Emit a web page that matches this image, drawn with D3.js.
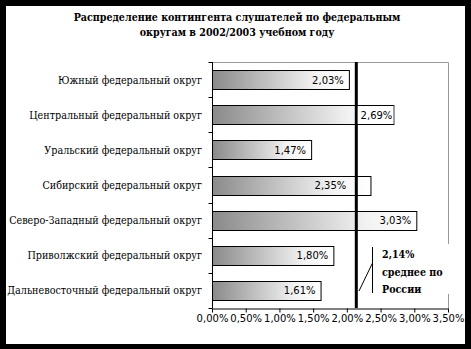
<!DOCTYPE html>
<html lang="ru">
<head>
<meta charset="utf-8">
<title>Распределение контингента слушателей</title>
<script src="https://d3js.org/d3.v7.min.js"></script>
<style>
  body { margin: 0; background: #000; }
  .cat { font-family: "DejaVu Serif Condensed", "DejaVu Serif", serif; font-stretch: condensed; font-size: 10.7px; }
  .val { font-family: "DejaVu Sans", Verdana, sans-serif; font-size: 10px; }
  .ttl, .note { font-family: "DejaVu Serif Condensed", "DejaVu Serif", serif; font-stretch: condensed; font-size: 10.6px; font-weight: bold; }
</style>
</head>
<body>
<div id="chart"></div>
<script>
// data
var districts = ["Южный федеральный округ", "Центральный федеральный округ", "Уральский федеральный округ",
  "Сибирский федеральный округ", "Северо-Западный федеральный округ", "Приволжский федеральный округ",
  "Дальневосточный федеральный округ"];
var shares = [2.03, 2.69, 1.47, 2.35, 3.03, 1.80, 1.61];
var average = 2.14;
var xTicks = [0, 0.5, 1, 1.5, 2, 2.5, 3, 3.5];
var titleLines = ["Распределение контингента слушателей по федеральным", "округам в 2002/2003 учебном году"];
var noteLines = ["2,14%", "среднее по", "России"];

var w = 471, h = 349;
var fmt = function(v) { return v.toFixed(2).replace(".", ",") + "%"; };

var svg = d3.select("#chart").append("svg").attr("width", w).attr("height", h);

// frame
svg.append("rect").attr("width", w).attr("height", h).attr("fill", "#000");
svg.append("rect").attr("x", 6).attr("y", 6).attr("width", 459).attr("height", 338).attr("fill", "#fff");

var grad = svg.append("defs").append("linearGradient").attr("id", "barfill");
grad.append("stop").attr("offset", "0%").attr("stop-color", "#8a8a8a");
grad.append("stop").attr("offset", "75%").attr("stop-color", "#f2f2f2");
grad.append("stop").attr("offset", "100%").attr("stop-color", "#ffffff");

// title
svg.selectAll(".ttl").data(titleLines).enter().append("text")
  .attr("class", "ttl").attr("x", 237).attr("y", function(d, i) { return 21 + i * 14.5; })
  .attr("text-anchor", "middle").text(function(d) { return d; });

var pLeft = 212, pRight = 448, pTop = 62, pBottom = 308;
var x = d3.scaleLinear().domain([0, 3.5]).range([pLeft, pRight]);
var y = d3.scaleBand().domain(districts).range([pTop, pBottom]).paddingInner(0.46).paddingOuter(0.23);

// plot border (top, right)
svg.append("path").attr("d", "M" + pLeft + "," + (pTop + 0.5) + "H" + (pRight + 0.5) + "V" + pBottom)
  .attr("fill", "none").attr("stroke", "#999");

// bars
svg.selectAll(".bar").data(shares).enter().append("rect")
  .attr("class", "bar")
  .attr("x", pLeft + 0.5).attr("y", function(d, i) { return Math.round(y(districts[i])) + 0.5; })
  .attr("width", function(d) { return x(d) - pLeft; })
  .attr("height", Math.round(y.bandwidth()))
  .attr("fill", "url(#barfill)").attr("stroke", "#000");

// average line
var xa = x(average);
svg.append("line").attr("x1", xa).attr("x2", xa).attr("y1", pTop).attr("y2", pBottom)
  .attr("stroke", "#000").attr("stroke-width", 3);

// value labels (moved off the average line like in the original)
svg.selectAll(".vlab").data(shares).enter().append("g").attr("class", "vlab")
  .each(function(d, i) {
    var g = d3.select(this);
    var t = g.append("text").attr("class", "val")
      .attr("x", x(d) - 5).attr("y", y(districts[i]) + y.bandwidth() / 2 + 4)
      .attr("text-anchor", "end").text(fmt(d));
    var bb = t.node().getBBox();
    if (bb.x < xa + 2 && bb.x + bb.width > xa - 2) {
      if (x(d) - xa > bb.width + 1) {
        g.insert("rect", "text").attr("x", xa + 1.5).attr("y", Math.round(y(districts[i])) + 1)
          .attr("width", x(d) - xa - 1.5).attr("height", Math.round(y.bandwidth()) - 1).attr("fill", "#fff");
        t.attr("x", x(d) - 1);
      } else {
        t.attr("x", xa - 10);
      }
    }
  });

// axes
var yAxis = svg.append("g").attr("transform", "translate(" + (pLeft + 0.5) + ",0)");
yAxis.append("line").attr("y1", pTop).attr("y2", pBottom).attr("stroke", "#000");
yAxis.selectAll(".yt").data(d3.range(districts.length + 1)).enter().append("line")
  .attr("class", "yt")
  .attr("x1", -4).attr("x2", 0)
  .attr("y1", function(i) { return Math.round(pTop + i * y.step()) + 0.5; })
  .attr("y2", function(i) { return Math.round(pTop + i * y.step()) + 0.5; })
  .attr("stroke", "#000");

svg.selectAll(".cat").data(districts).enter().append("text")
  .attr("class", "cat").attr("x", 202).attr("y", function(d) { return y(d) + y.bandwidth() / 2 + 4; })
  .attr("text-anchor", "end").text(function(d) { return d; });

var xAxis = svg.append("g").attr("transform", "translate(0," + (pBottom + 0.5) + ")")
  .call(d3.axisBottom(x).tickValues(xTicks).tickFormat(fmt).tickSize(4).tickSizeOuter(0));
xAxis.select(".domain").attr("stroke", "#000");
xAxis.selectAll(".tick text").attr("y", 6).attr("fill", "#000")
  .style("font-family", "'DejaVu Sans', Verdana, sans-serif").style("font-size", "10px");

// annotation box
var note = svg.append("g");
note.append("rect").attr("x", 368).attr("y", 244).attr("width", 92).attr("height", 50).attr("fill", "#fff");
note.append("line").attr("x1", 372.5).attr("x2", 372.5).attr("y1", 247).attr("y2", 293).attr("stroke", "#000");
note.append("line").attr("x1", 372.5).attr("y1", 263).attr("x2", 359).attr("y2", 291).attr("stroke", "#000");
note.selectAll("text").data(noteLines).enter().append("text")
  .attr("class", "note").attr("x", 382).attr("y", function(d, i) { return 258 + i * 17.5; })
  .text(function(d) { return d; });
</script>
</body>
</html>
